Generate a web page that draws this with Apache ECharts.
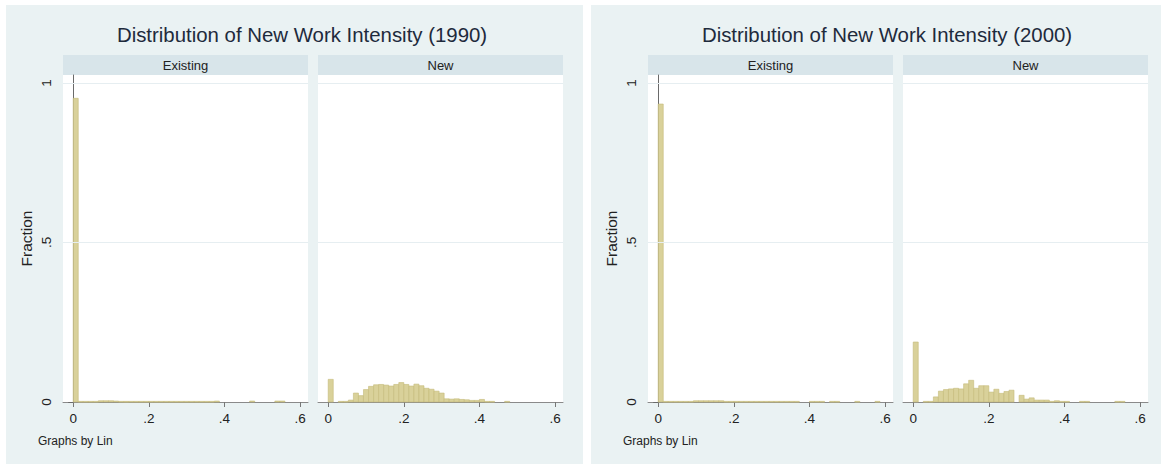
<!DOCTYPE html>
<html>
<head>
<meta charset="utf-8">
<style>
html,body{margin:0;padding:0;background:#ffffff;}
#chart{width:1161px;height:464px;}
</style>
<script src="https://cdn.jsdelivr.net/npm/echarts@6/dist/echarts.min.js"></script>
</head>
<body>
<div id="chart"></div>
<script>
// ---- data ----
const binWidth = 0.013333;
const xTickValues = [0, 0.2, 0.4, 0.6];
const xTickLabels = ['0', '.2', '.4', '.6'];
const yTickValues = [0, 0.5, 1];
const yTickLabels = ['0', '.5', '1'];
const chartTitles = ['Distribution of New Work Intensity (1990)', 'Distribution of New Work Intensity (2000)'];
const panelTitles = ['Existing', 'New'];
const yAxisTitle = 'Fraction';
const noteText = 'Graphs by Lin';

const existing1990 = [0.952,0.002,0.002,0.002,0.002,0.004,0.004,0.004,0.003,0.002,
  0.002,0.002,0.002,0.002,0.002,0.002,0.002,0.002,0.002,0.002,
  0.002,0.002,0.002,0.002,0.002,0.002,0.002,0.002,0.003,0,
  0,0,0,0,0,0.003,0,0,0,0,
  0.003,0.003,0,0,0];
const new1990 = [0.071,0,0.002,0.002,0.006,0.028,0.020,0.039,0.049,0.054,
  0.055,0.053,0.050,0.055,0.061,0.055,0.050,0.056,0.051,0.043,
  0.040,0.034,0.028,0.010,0.009,0.010,0.008,0.007,0.005,0.005,
  0.008,0.002,0.002,0,0,0.002,0,0,0,0,
  0,0,0,0,0];
const existing2000 = [0.934,0.002,0.002,0.002,0.002,0.002,0.002,0.004,0.004,0.004,
  0.004,0.004,0.004,0.002,0.002,0.002,0.002,0.002,0.002,0.002,
  0.002,0.002,0.002,0.002,0.002,0.002,0.002,0.002,0,0,
  0.002,0.002,0.002,0,0.002,0.002,0,0,0,0.002,
  0,0,0,0.002,0];
const new2000 = [0.188,0,0.002,0.002,0.016,0.034,0.039,0.041,0.043,0.041,
  0.057,0.068,0.043,0.051,0.051,0.031,0.040,0.027,0.033,0.037,
  0,0.021,0.009,0.013,0.006,0.006,0.006,0.002,0.004,0.002,
  0.002,0,0,0.002,0.002,0,0,0,0,0,
  0.002,0.002,0,0,0];

// ---- layout ----
const FONT = '"Liberation Sans", Arial, Helvetica, sans-serif';
const panels = [
  {left: 63,  data: existing1990, showY: true,  title: panelTitles[0]},
  {left: 318, data: new1990,      showY: false, title: panelTitles[1]},
  {left: 648, data: existing2000, showY: true,  title: panelTitles[0]},
  {left: 903, data: new2000,      showY: false, title: panelTitles[1]}
];
const PW = 245, PTOP = 75, PH = 327, HEADH = 20;

const grids = [], xAxes = [], yAxes = [], series = [];
const graphics = [
  {type: 'rect', z: -100, shape: {x: 6, y: 5, width: 577, height: 459}, style: {fill: '#EAF2F3'}},
  {type: 'rect', z: -100, shape: {x: 591, y: 5, width: 570, height: 459}, style: {fill: '#EAF2F3'}},
  {type: 'text', x: 302, y: 35, style: {text: chartTitles[0], fill: '#1e2a3c', font: '20.4px ' + FONT, textAlign: 'center', textVerticalAlign: 'middle'}},
  {type: 'text', x: 887, y: 35, style: {text: chartTitles[1], fill: '#1e2a3c', font: '20.4px ' + FONT, textAlign: 'center', textVerticalAlign: 'middle'}},
  {type: 'text', x: 38, y: 441, style: {text: noteText, fill: '#222', font: '12px ' + FONT, textAlign: 'left', textVerticalAlign: 'middle'}},
  {type: 'text', x: 623, y: 441, style: {text: noteText, fill: '#222', font: '12px ' + FONT, textAlign: 'left', textVerticalAlign: 'middle'}}
];

panels.forEach((p, i) => {
  grids.push({left: p.left, top: PTOP, width: PW, height: PH, show: true, backgroundColor: '#ffffff', borderWidth: 0, containLabel: false});
  graphics.push({type: 'rect', shape: {x: p.left, y: PTOP - HEADH, width: PW, height: HEADH}, style: {fill: '#D8E5EA'}});
  graphics.push({type: 'text', x: p.left + PW / 2, y: PTOP - HEADH / 2, style: {text: p.title, fill: '#222', font: '13px ' + FONT, textAlign: 'center', textVerticalAlign: 'middle'}});
  xAxes.push({
    type: 'value', gridIndex: i, min: -0.027, max: 0.621,
    axisLine: {show: true, onZero: false, lineStyle: {color: '#8a8a8a', width: 1}},
    axisTick: {show: true, length: 5, customValues: xTickValues, lineStyle: {color: '#777'}},
    axisLabel: {show: true, customValues: xTickValues, margin: 9, color: '#222', fontSize: 13.5, fontFamily: FONT,
      formatter: v => { const k = xTickValues.findIndex(t => Math.abs(t - v) < 1e-6); return k >= 0 ? xTickLabels[k] : ''; }},
    splitLine: {show: false}
  });
  yAxes.push({
    type: 'value', gridIndex: i, min: 0, max: 1.025,
    name: p.showY ? yAxisTitle : '', nameLocation: 'middle', nameGap: 29,
    nameTextStyle: {color: '#222', fontSize: 15.5, fontFamily: FONT},
    axisLine: {show: p.showY, lineStyle: {color: '#6a6a6a', width: 1}},
    axisTick: {show: p.showY, length: 5, customValues: yTickValues, lineStyle: {color: '#6a6a6a'}},
    axisLabel: {show: p.showY, customValues: yTickValues, rotate: 90, margin: 10, color: '#222', fontSize: 13.5, fontFamily: FONT,
      formatter: v => { const k = yTickValues.findIndex(t => Math.abs(t - v) < 1e-6); return k >= 0 ? yTickLabels[k] : ''; }},
    splitLine: {show: false}
  });
  series.push({
    type: 'custom', xAxisIndex: i, yAxisIndex: i, silent: true,
    data: p.data.map((v, k) => [k * binWidth, v]),
    renderItem: (params, api) => {
      const x0 = api.value(0), h = api.value(1);
      if (!(h > 0)) return null;
      const a = api.coord([x0, h]);
      const b = api.coord([x0 + binWidth, 0]);
      return {type: 'rect', shape: {x: a[0], y: a[1], width: b[0] - a[0], height: Math.max(b[1] - a[1], 0.8)},
        style: {fill: '#D9D19A', stroke: '#C4BA78', lineWidth: 0.6}};
    },
    markLine: {silent: true, symbol: 'none', label: {show: false},
      lineStyle: {color: '#E6EEF1', width: 1, type: 'solid'},
      data: yTickValues.filter(v => v > 0).map(v => ({yAxis: v}))},
    z: 3
  });
});

const chart = echarts.init(document.getElementById('chart'), null, {renderer: 'svg'});
chart.setOption({
  animation: false,
  backgroundColor: '#ffffff',
  grid: grids, xAxis: xAxes, yAxis: yAxes, series: series,
  graphic: graphics
});
</script>
</body>
</html>
